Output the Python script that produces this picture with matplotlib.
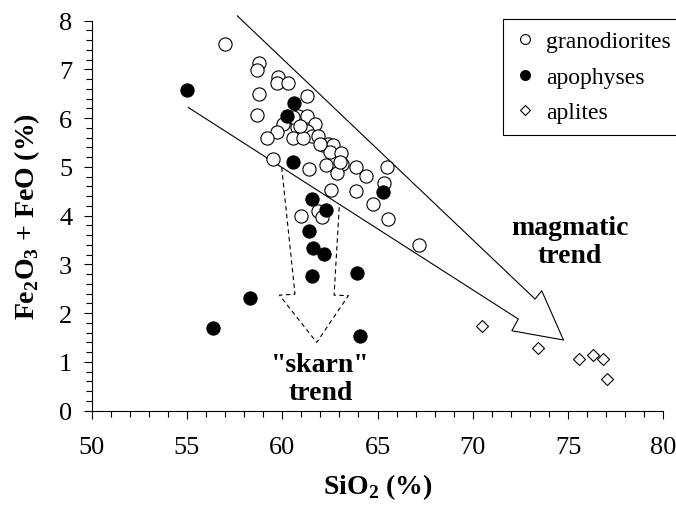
import matplotlib.pyplot as plt
import numpy as np
import matplotlib.ticker as ticker

plt.rcParams['font.family'] = ['Liberation Serif', 'DejaVu Serif']
plt.rcParams['mathtext.fontset'] = 'custom'
plt.rcParams['mathtext.rm'] = 'Liberation Serif'
plt.rcParams['mathtext.bf'] = 'Liberation Serif:bold'

# granodiorites (open circles)
gran_si = [57.0, 58.8, 58.7, 59.76, 59.7, 60.3, 58.8, 61.3, 58.66, 60.85,
           61.3, 61.7, 60.06, 60.76, 59.7, 61.3, 61.55, 60.58, 61.1, 59.2,
           61.9, 62.16, 62.42, 62.68, 62.5, 63.07, 63.12, 62.86, 59.5, 61.42,
           62.28, 63.86, 64.4, 65.52, 65.36, 62.55, 63.87, 64.78, 65.54, 67.2,
           60.97, 61.9, 62.07, 60.58, 60.93, 61.98, 63.03]
gran_fe = [7.52, 7.13, 6.99, 6.84, 6.72, 6.72, 6.5, 6.45, 6.07, 6.05,
           6.05, 5.88, 5.88, 5.81, 5.71, 5.74, 5.64, 5.59, 5.59, 5.59,
           5.64, 5.45, 5.47, 5.44, 5.3, 5.28, 5.06, 4.88, 5.16, 4.96,
           5.03, 4.99, 4.81, 4.99, 4.67, 4.53, 4.51, 4.24, 3.93, 3.4,
           3.99, 4.1, 3.97, 6.02, 5.85, 5.47, 5.1]

# apophyses (filled circles)
apo_si = [55.02, 60.62, 60.27, 60.55, 65.31, 61.55, 62.3, 61.41, 61.63, 62.19,
          61.58, 63.91, 58.31, 56.35, 64.08]
apo_fe = [6.58, 6.31, 6.04, 5.11, 4.48, 4.34, 4.12, 3.69, 3.34, 3.21,
          2.76, 2.82, 2.31, 1.70, 1.53]

# aplites (diamonds)
apl_si = [70.49, 73.41, 75.58, 76.33, 76.86, 77.03]
apl_fe = [1.74, 1.29, 1.06, 1.15, 1.07, 0.66]

# outline of the magmatic trend arrow (open at the upper left)
mag_x = [57.64, 73.27, 73.62, 74.76, 72.05, 72.39, 55.07]
mag_y = [8.10, 2.29, 2.46, 1.45, 1.64, 1.88, 6.22]

# outline of the "skarn" trend arrow
sk_x = [59.97, 60.67, 59.85, 61.81, 63.47, 62.72, 63.00]
sk_y = [4.99, 2.39, 2.37, 1.40, 2.36, 2.37, 4.24]

fig = plt.figure(figsize=(6.76, 5.06), dpi=100)
ax = fig.add_axes([0.1357, 0.1864, 0.8455, 0.7707])

ax.plot(mag_x, mag_y, color='black', linewidth=0.8, clip_on=False)
ax.plot(sk_x, sk_y, color='black', linewidth=0.8, linestyle=(0, (4, 3)))

ax.plot(gran_si, gran_fe, 'o', markersize=9.5, markerfacecolor='white',
        markeredgecolor='black', markeredgewidth=0.8, label='granodiorites')
ax.plot(apo_si, apo_fe, 'o', markersize=9.5, markerfacecolor='black',
        markeredgecolor='black', markeredgewidth=0.8, label='apophyses')
ax.plot(apl_si, apl_fe, 'D', markersize=6.5, markerfacecolor='white',
        markeredgecolor='black', markeredgewidth=0.8, label='aplites')

ax.text(75.1, 3.47, 'magmatic\ntrend', fontsize=20, fontweight='bold',
        ha='center', va='center', linespacing=1.2)
ax.text(62.0, 0.66, '"skarn"\ntrend', fontsize=20, fontweight='bold',
        ha='center', va='center', linespacing=1.2)

ax.set_xlim(50, 80)
ax.set_ylim(0, 8)
ax.xaxis.set_major_locator(ticker.MultipleLocator(5))
ax.xaxis.set_minor_locator(ticker.MultipleLocator(1))
ax.yaxis.set_major_locator(ticker.MultipleLocator(1))
ax.yaxis.set_minor_locator(ticker.MultipleLocator(0.2))
ax.tick_params(which='major', direction='out', length=6, width=0.8,
               labelsize=19, pad=12)
ax.tick_params(which='minor', direction='out', length=4, width=0.8)
ax.tick_params(axis='y', which='major', pad=8)
for s in ['top', 'right']:
    ax.spines[s].set_visible(False)
for s in ['left', 'bottom']:
    ax.spines[s].set_linewidth(0.8)

ax.set_xlabel(r'SiO$_\mathbf{2}$ (%)', fontsize=20, fontweight='bold', labelpad=10)
ax.set_ylabel(r'Fe$_\mathbf{2}$O$_\mathbf{3}$ + FeO (%)', fontsize=20,
              fontweight='bold', labelpad=12)

leg = ax.legend(loc='upper left', bbox_to_anchor=(0.72, 1.005), fontsize=17,
                fancybox=False, edgecolor='black', framealpha=1,
                markerscale=0.75, handlelength=0.8, handletextpad=0.5,
                borderpad=0.5, labelspacing=0.6, borderaxespad=0)
leg.get_frame().set_linewidth(0.8)

fig.savefig('out.png', dpi=100)
